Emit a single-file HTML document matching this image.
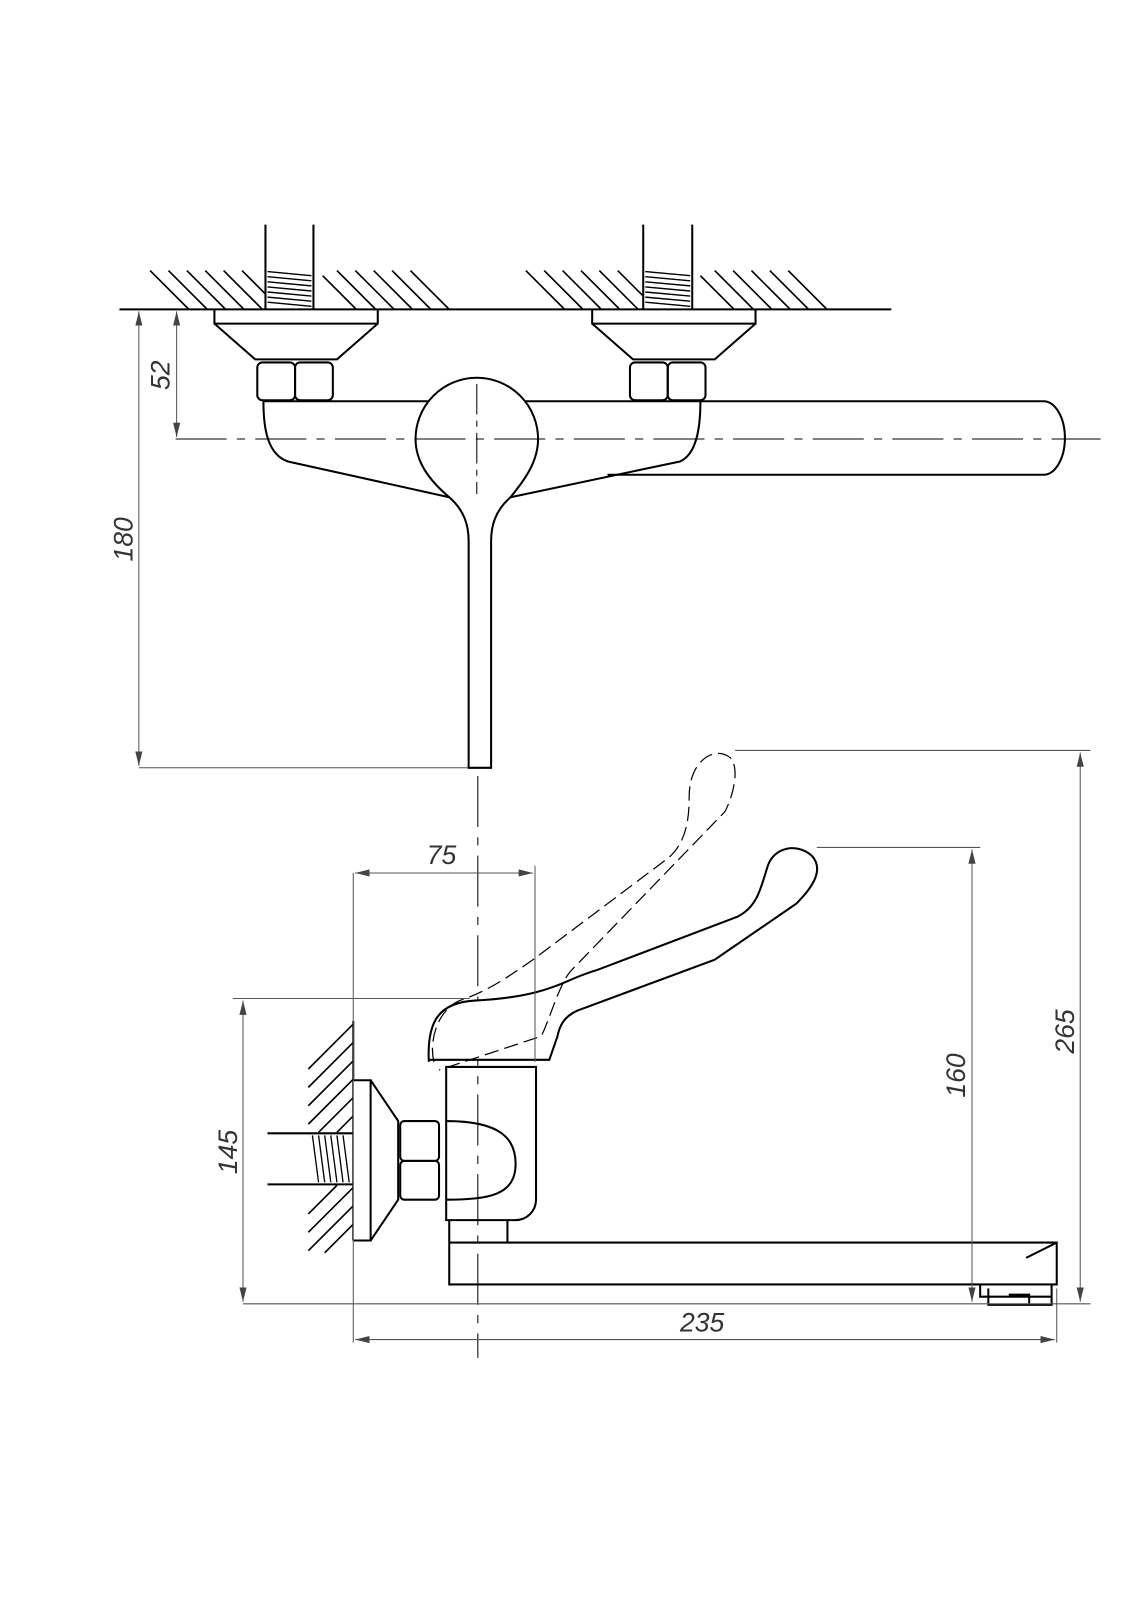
<!DOCTYPE html>
<html><head><meta charset="utf-8"><style>html,body{margin:0;padding:0;background:#fff}svg{display:block}</style></head>
<body>
<svg width="1131" height="1600" viewBox="0 0 1131 1600" xmlns="http://www.w3.org/2000/svg" font-family="Liberation Sans, DejaVu Sans, sans-serif">
<defs>
<marker id="a" viewBox="0 0 10 10" refX="10" refY="5" markerWidth="14" markerHeight="14" markerUnits="userSpaceOnUse" orient="auto-start-reverse"><path d="M0,2.5 L10,5 L0,7.5Z" fill="#444"/></marker>
</defs>
<g transform="scale(1.021)">
<g stroke="#000" stroke-width="2" fill="none">
<line x1="117" y1="303" x2="873" y2="303"/>
<g stroke-width="1.6">
<line x1="147" y1="265" x2="185" y2="303"/><line x1="165" y1="265" x2="203" y2="303"/><line x1="183" y1="265" x2="221" y2="303"/><line x1="201" y1="265" x2="239" y2="303"/><line x1="219" y1="265" x2="257" y2="303"/><line x1="237" y1="265" x2="260" y2="288"/>
<line x1="316" y1="270" x2="349" y2="303"/><line x1="330" y1="265" x2="368" y2="303"/><line x1="348" y1="265" x2="386" y2="303"/><line x1="366" y1="265" x2="404" y2="303"/><line x1="384" y1="265" x2="422" y2="303"/><line x1="402" y1="265" x2="440" y2="303"/>
<line x1="515" y1="265" x2="553" y2="303"/><line x1="533" y1="265" x2="571" y2="303"/><line x1="551" y1="265" x2="589" y2="303"/><line x1="569" y1="265" x2="607" y2="303"/><line x1="587" y1="265" x2="625" y2="303"/><line x1="605" y1="265" x2="630" y2="290"/>
<line x1="686" y1="270" x2="719" y2="303"/><line x1="700" y1="265" x2="738" y2="303"/><line x1="718" y1="265" x2="756" y2="303"/><line x1="736" y1="265" x2="774" y2="303"/><line x1="754" y1="265" x2="792" y2="303"/><line x1="772" y1="265" x2="810" y2="303"/>
</g>
<line x1="260" y1="220" x2="260" y2="303"/><line x1="307" y1="220" x2="307" y2="303"/>
<line x1="630" y1="220" x2="630" y2="303"/><line x1="678" y1="220" x2="678" y2="303"/>
<g stroke-width="1.4">
<line x1="262" y1="266" x2="305" y2="270"/><line x1="262" y1="271" x2="305" y2="275"/><line x1="262" y1="276" x2="305" y2="280"/><line x1="262" y1="281" x2="305" y2="285"/><line x1="262" y1="286" x2="305" y2="290"/><line x1="262" y1="291" x2="305" y2="295"/><line x1="262" y1="296" x2="305" y2="300"/>
<line x1="632" y1="266" x2="676" y2="270"/><line x1="632" y1="271" x2="676" y2="275"/><line x1="632" y1="276" x2="676" y2="280"/><line x1="632" y1="281" x2="676" y2="285"/><line x1="632" y1="286" x2="676" y2="290"/><line x1="632" y1="291" x2="676" y2="295"/><line x1="632" y1="296" x2="676" y2="300"/>
</g>
<path d="M210,303 V317 H370 V303 M210,317 L250,352 H330 L370,317"/>
<path d="M580,303 V317 H740 V303 M580,317 L620,352 H700 L740,317"/>
<rect x="252" y="355" width="37" height="37" rx="5"/><rect x="289" y="355" width="37" height="37" rx="5"/>
<rect x="617" y="355" width="37" height="37" rx="5"/><rect x="654" y="355" width="37" height="37" rx="5"/>
<path d="M258,393 H690 M258,393 C258,420 262,445 282,452 L440,487"/>
<path d="M686,393 C686,420 682,445 666,452 L500,487"/>
<path d="M690,393 H1022 A21,36 0 0 1 1022,465 H595"/>
<path d="M440,487 C420,470 407,452 407,430 A60,60 0 1 1 527,430 C527,452 514,470 500,487 C485,500 481,515 481,530 V752 H459 V530 C459,515 455,500 440,487Z" fill="#fff"/>
</g>
<g stroke="#000" stroke-width="1" fill="none">
<line x1="172" y1="430" x2="1078" y2="430" stroke-dasharray="50,10,8,10"/>
<line x1="467" y1="376" x2="467" y2="484" stroke-dasharray="30,6,6,6"/>
<line x1="468" y1="760" x2="468" y2="1330" stroke-dasharray="50,10,8,10"/>
</g>
<g stroke="#555" stroke-width="1" fill="none">
<line x1="136" y1="305" x2="136" y2="750" marker-start="url(#a)" marker-end="url(#a)"/>
<line x1="173" y1="305" x2="173" y2="428" marker-start="url(#a)" marker-end="url(#a)"/>
<line x1="136" y1="752" x2="458" y2="752"/>
</g>
<g fill="#333" font-size="26" font-style="italic">
<text transform="translate(166,382) rotate(-90)">52</text>
<text transform="translate(130,550) rotate(-90)">180</text>
</g>
<g stroke="#000" stroke-width="2" fill="none">
<g stroke-width="1.6">
<line x1="346" y1="1003" x2="302" y2="1047"/><line x1="346" y1="1021" x2="302" y2="1065"/><line x1="346" y1="1039" x2="302" y2="1083"/><line x1="346" y1="1057" x2="302" y2="1101"/><line x1="346" y1="1075" x2="312" y2="1109"/><line x1="346" y1="1093" x2="330" y2="1109"/>
<line x1="330" y1="1161" x2="302" y2="1189"/><line x1="346" y1="1163" x2="302" y2="1207"/><line x1="346" y1="1181" x2="302" y2="1225"/><line x1="346" y1="1199" x2="318" y2="1227"/>
</g>
<line x1="346" y1="1000" x2="346" y2="1215"/>
<path d="M262,1110 H346 M262,1160 H346"/>
<g stroke-width="1.3"><line x1="306" y1="1112" x2="312" y2="1158"/><line x1="312" y1="1112" x2="318" y2="1158"/><line x1="318" y1="1112" x2="324" y2="1158"/><line x1="324" y1="1112" x2="330" y2="1158"/><line x1="330" y1="1112" x2="336" y2="1158"/><line x1="336" y1="1112" x2="342" y2="1158"/></g>
<path d="M346,1058 H363 V1215 H346 M363,1058 L390,1098 V1175 L363,1215" fill="#fff"/>
<rect x="392" y="1098" width="38" height="39" rx="4"/><rect x="392" y="1137" width="38" height="38" rx="4"/>
<path d="M437,1045 H525 V1175 A20,20 0 0 1 505,1195 H437Z"/>
<path d="M437,1098 C490,1098 505,1115 505,1140 C505,1170 480,1175 437,1175"/>
<path d="M440,1195 V1258 H1035 V1217 H497 V1195 M440,1217 H497"/>
<path d="M1035,1217 L1005,1232 M960,1258 V1270 H1030 V1258 M968,1262 V1278 H1030 V1262 M988,1268 H1008 V1278"/>
<path d="M420,1040 C418,1000 430,982 465,980 C540,976 550,960 585,950 L722,898 C742,888 745,870 752,848 C758,830 780,825 795,838 C808,852 795,870 780,885 L700,940 L565,990 C552,996 548,1005 546,1015 L538,1038 H420Z" fill="#fff"/>
</g>
<g stroke="#000" stroke-width="1.2" fill="none" stroke-dasharray="14,6">
<path d="M425,1040 C420,1020 428,990 450,980 C480,970 500,955 522,940 L655,840 C673,824 675,800 675,780 C675,745 700,730 715,742 C725,752 718,780 710,795 L560,950 C548,962 538,1000 530,1015 L430,1048"/>
</g>
<g stroke="#555" stroke-width="1" fill="none">
<line x1="346" y1="855" x2="346" y2="1315"/><line x1="524" y1="848" x2="524" y2="1040"/>
<line x1="348" y1="855" x2="522" y2="855" marker-start="url(#a)" marker-end="url(#a)"/>
<line x1="348" y1="1312" x2="1033" y2="1312" marker-start="url(#a)" marker-end="url(#a)"/>
<line x1="1035" y1="1262" x2="1035" y2="1315"/>
<line x1="228" y1="978" x2="460" y2="978"/><line x1="238" y1="1277" x2="1068" y2="1277"/>
<line x1="238" y1="980" x2="238" y2="1275" marker-start="url(#a)" marker-end="url(#a)"/>
<line x1="800" y1="830" x2="960" y2="830"/><line x1="952" y1="832" x2="952" y2="1275" marker-start="url(#a)" marker-end="url(#a)"/>
<line x1="720" y1="735" x2="1068" y2="735"/><line x1="1058" y1="737" x2="1058" y2="1275" marker-start="url(#a)" marker-end="url(#a)"/>
</g>
<g fill="#333" font-size="26" font-style="italic">
<text x="418" y="846">75</text>
<text x="666" y="1304">235</text>
<text transform="translate(232,1150) rotate(-90)">145</text>
<text transform="translate(945,1075) rotate(-90)">160</text>
<text transform="translate(1052,1032) rotate(-90)">265</text>
</g>
</g>
</svg>
</body></html>
